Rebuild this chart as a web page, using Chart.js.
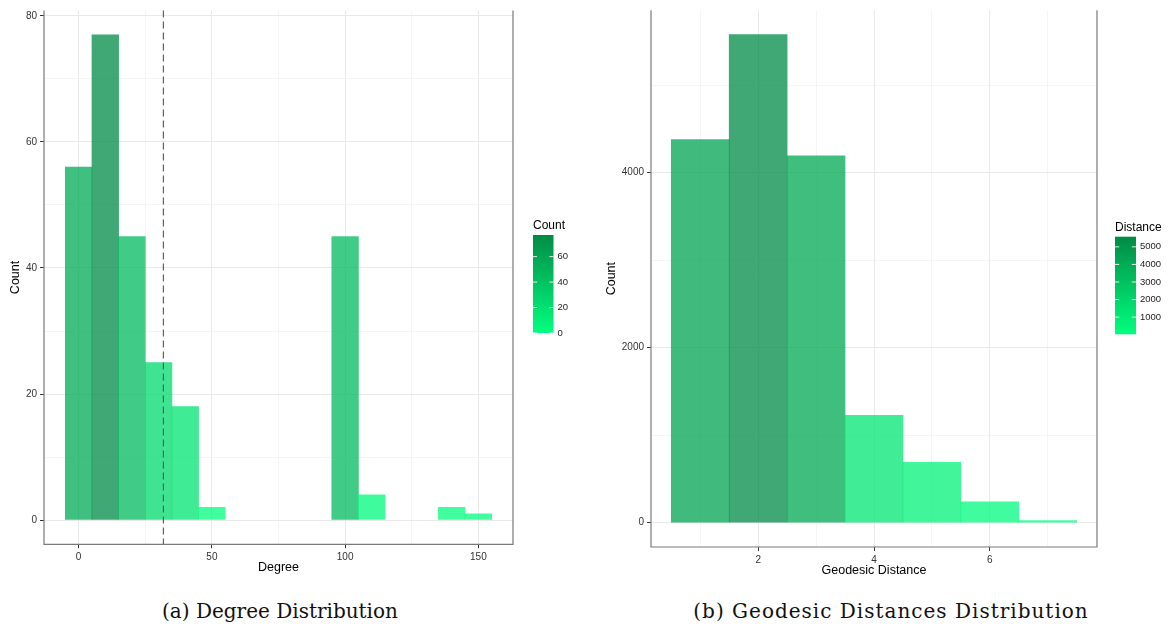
<!DOCTYPE html>
<html><head><meta charset="utf-8">
<script src="https://cdn.jsdelivr.net/npm/chart.js@4.4.1/dist/chart.umd.min.js"></script>
<style>
html,body{margin:0;padding:0;background:#fff;width:1169px;height:626px;overflow:hidden;}
#c1{position:absolute;left:0;top:0;}
#c2{position:absolute;left:590px;top:0;}
.cap{position:absolute;top:599px;font-family:"DejaVu Serif","Liberation Serif",serif;font-size:20px;color:#111;white-space:nowrap;transform:translateX(-50%);}
</style></head><body>
<canvas id="c1" width="590" height="585"></canvas>
<canvas id="c2" width="579" height="585"></canvas>
<div class="cap" id="capA" style="left:280px">(a) Degree Distribution</div>
<div class="cap" id="capB" style="left:891px;letter-spacing:1px">(b) Geodesic Distances Distribution</div>
<script>
// ---------- data ----------
const degreeBins = [0,10,20,30,40,50,60,70,80,90,100,110,120,130,140,150];
const degreeCounts = [56,77,45,25,18,2,0,0,0,0,45,4,0,0,2,1];
const meanDegree = 31.8;
const degreeXMajor = [0,50,100,150];
const degreeXMinor = [25,75,125];
const degreeYMajor = [0,20,40,60,80];
const degreeYMinor = [10,30,50,70];
const degreeLegendTicks = [0,20,40,60];

const distBins = [1,2,3,4,5,6,7];
const distCounts = [4377,5577,4191,1227,690,237,22];
const distXMajor = [2,4,6];
const distXMinor = [1,3,5,7];
const distYMajor = [0,2000,4000];
const distYMinor = [1000,3000,5000];
const distLegendTicks = [1000,2000,3000,4000,5000];

// ---------- styling helpers ----------
const LOW = [0,255,127];   // springgreen
const HIGH = [0,139,69];   // springgreen4
function colourAt(t, a){
  t = Math.max(0, Math.min(1, t));
  const c = LOW.map((l,i)=>Math.round(l + (HIGH[i]-l)*t));
  return `rgba(${c[0]},${c[1]},${c[2]},${a})`;
}
function barFill(v, lo, hi){ return v === 0 ? 'rgba(0,0,0,0)' : colourAt((v-lo)/(hi-lo), 0.75); }
const SANS = '"Liberation Sans", Arial, Helvetica, sans-serif';
const GRID_MAJOR = '#e9e9e9', GRID_MINOR = '#f3f3f3';

function expand(lo, hi){ const d=(hi-lo)*0.05; return [lo-d, hi+d]; }

function axis(major, minor, range, opts){
  const all = major.concat(minor).sort((a,b)=>a-b);
  return Object.assign({
    type:'linear', min:range[0], max:range[1], offset:false,
    afterBuildTicks: s => { s.ticks = all.map(v=>({value:v})); },
    ticks:{ autoSkip:false, maxRotation:0, color:'#333', font:{family:SANS,size:10},
      callback: v => major.includes(v) ? String(v) : '' },
    grid:{ offset:false, drawOnChartArea:true, tickLength:4,
      color: c => (c.tick && major.includes(c.tick.value)) ? GRID_MAJOR : GRID_MINOR,
      lineWidth: c => (c.tick && major.includes(c.tick.value)) ? 1 : 0.8,
      tickColor: c => (c.tick && major.includes(c.tick.value)) ? '#333' : 'rgba(0,0,0,0)' },
    border:{ display:false }
  }, opts);
}

const panelBorder = {
  id:'panelBorder',
  afterDraw(chart){
    const {ctx, chartArea:a} = chart;
    ctx.save(); ctx.strokeStyle='#7a7a7a'; ctx.lineWidth=1.2;
    ctx.beginPath();
    ctx.moveTo(a.left, a.top); ctx.lineTo(a.left, a.bottom); ctx.lineTo(a.right, a.bottom); ctx.lineTo(a.right, a.top);
    ctx.stroke(); ctx.restore();
  }
};

const colourBar = {
  id:'colourBar',
  afterDraw(chart, args, o){
    const ctx = chart.ctx;
    const g = ctx.createLinearGradient(0, o.bottom, 0, o.top);
    for (let i=0;i<=20;i++) g.addColorStop(i/20, colourAt(i/20, 1));
    ctx.save();
    ctx.fillStyle = g; ctx.fillRect(o.x, o.top, o.width, o.bottom-o.top);
    ctx.fillStyle = '#000'; ctx.font = `12px ${SANS}`; ctx.textBaseline='middle'; ctx.textAlign='left';
    ctx.fillText(o.title, o.x, o.titleY);
    ctx.font = `9.5px ${SANS}`; ctx.fillStyle='#222';
    ctx.strokeStyle='rgba(255,255,255,0.85)'; ctx.lineWidth=1;
    const tl = o.width/5;
    o.ticks.forEach(v=>{
      const y = o.bottom - (v-o.lo)/(o.hi-o.lo)*(o.bottom-o.top);
      ctx.beginPath(); ctx.moveTo(o.x, y); ctx.lineTo(o.x+tl, y);
      ctx.moveTo(o.x+o.width-tl, y); ctx.lineTo(o.x+o.width, y); ctx.stroke();
      ctx.fillText(String(v), o.x+o.width+4, y);
    });
    ctx.restore();
  }
};

const meanLine = {
  id:'meanLine',
  afterDatasetsDraw(chart, args, o){
    if (o.value === undefined) return;
    const {ctx, chartArea:a, scales} = chart;
    const x = scales.x.getPixelForValue(o.value);
    ctx.save(); ctx.strokeStyle='#555'; ctx.lineWidth=1.1; ctx.setLineDash([7,4]);
    ctx.beginPath(); ctx.moveTo(x, a.top); ctx.lineTo(x, a.bottom); ctx.stroke(); ctx.restore();
  }
};

// ---------- chart (a) ----------
const degLo = Math.min(...degreeCounts), degHi = Math.max(...degreeCounts);
const degW = degreeBins[1]-degreeBins[0];
new Chart(document.getElementById('c1'), {
  type:'bar',
  data:{ datasets:[{
    data: degreeBins.map((b,i)=>({x:b, y:degreeCounts[i]})),
    backgroundColor: degreeCounts.map(v=>barFill(v, degLo, degHi)),
    borderWidth:0, barPercentage:1, categoryPercentage:1
  }]},
  options:{
    responsive:false, animation:false, events:[],
    layout:{ padding:{left:0, top:10.6, right:77, bottom:0} },
    plugins:{ legend:{display:false}, tooltip:{enabled:false},
      meanLine:{ value: meanDegree },
      colourBar:{ x:533, width:20.5, top:235, bottom:333, lo:degLo, hi:degHi, ticks:degreeLegendTicks, title:'Count', titleY:226 } },
    scales:{
      x: axis(degreeXMajor, degreeXMinor, expand(degreeBins[0]-degW/2, degreeBins[degreeBins.length-1]+degW/2), {
        afterFit: s => { s.height = 585-544.3; },
        title:{ display:true, text:'Degree', color:'#000', font:{family:SANS,size:12.5}, padding:{top:0,bottom:9.5} }
      }),
      y: axis(degreeYMajor, degreeYMinor, expand(0, degHi), {
        afterFit: s => { s.width = 44; },
        title:{ display:true, text:'Count', color:'#000', font:{family:SANS,size:12.5}, padding:{top:8,bottom:0} }
      })
    }
  },
  plugins:[panelBorder, colourBar, meanLine]
});

// ---------- chart (b) ----------
const distLo = Math.min(...distCounts), distHi = Math.max(...distCounts);
const distW = distBins[1]-distBins[0];
new Chart(document.getElementById('c2'), {
  type:'bar',
  data:{ datasets:[{
    data: distBins.map((b,i)=>({x:b, y:distCounts[i]})),
    backgroundColor: distCounts.map(v=>barFill(v, distLo, distHi)),
    borderWidth:0, barPercentage:1, categoryPercentage:1
  }]},
  options:{
    responsive:false, animation:false, events:[],
    layout:{ padding:{left:0, top:10.3, right:72, bottom:0} },
    plugins:{ legend:{display:false}, tooltip:{enabled:false},
      colourBar:{ x:525, width:21, top:236.7, bottom:334.3, lo:distLo, hi:distHi, ticks:distLegendTicks, title:'Distance', titleY:227.5 } },
    scales:{
      x: axis(distXMajor, distXMinor, expand(distBins[0]-distW/2, distBins[distBins.length-1]+distW/2), {
        afterFit: s => { s.height = 585-547; },
        title:{ display:true, text:'Geodesic Distance', color:'#000', font:{family:SANS,size:12.5}, padding:{top:0,bottom:6.5} }
      }),
      y: axis(distYMajor, distYMinor, expand(0, distHi), {
        afterFit: s => { s.width = 61; },
        title:{ display:true, text:'Count', color:'#000', font:{family:SANS,size:12.5}, padding:{top:14,bottom:0} }
      })
    }
  },
  plugins:[panelBorder, colourBar]
});
</script>
</body></html>
